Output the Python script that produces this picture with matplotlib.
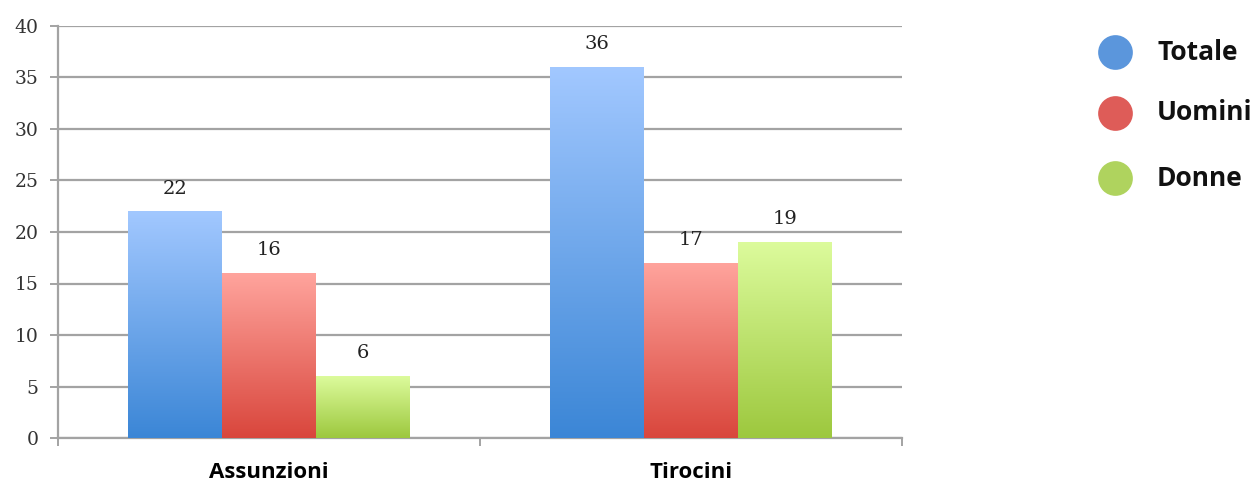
import numpy as np
import matplotlib
matplotlib.use("Agg")
import matplotlib.pyplot as plt
from matplotlib.colors import LinearSegmentedColormap
from matplotlib.lines import Line2D

categories = ["Assunzioni", "Tirocini"]
series_names = ["Totale", "Uomini", "Donne"]
totale = [22, 36]
uomini = [16, 17]
donne = [6, 19]
y_ticks = [0, 5, 10, 15, 20, 25, 30, 35, 40]

series_values = [totale, uomini, donne]
# (top colour, bottom colour) of each series' vertical gradient
gradients = [("#a2c8ff", "#3b86d6"), ("#ffa49d", "#d9463c"), ("#dcfb9c", "#9dc83e")]
legend_colors = ["#5b96dc", "#de5c58", "#afd35e"]

fig = plt.figure(figsize=(12.59, 4.84), dpi=100)
ax = fig.add_axes([58 / 1259, 1 - 438 / 484, (902 - 58) / 1259, (438 - 26) / 484])

x = np.arange(len(categories))
width = 0.222
offsets = [-width, 0, width]

grid_col = "#a3a3a3"
for vals, off, (top, bot) in zip(series_values, offsets, gradients):
    cmap = LinearSegmentedColormap.from_list("g", [bot, top])
    bars = ax.bar(x + off, vals, width, color="none", edgecolor="none", zorder=3)
    for rect, v in zip(bars, vals):
        x0 = rect.get_x()
        grad = np.linspace(0, 1, 256).reshape(-1, 1)
        im = ax.imshow(grad, cmap=cmap, origin="lower", aspect="auto",
                       extent=[x0, x0 + width, 0, v], zorder=3, interpolation="bicubic")
        im.set_clip_path(rect)
        ax.annotate(str(v), (x0 + width / 2, v), xytext=(0, 10), textcoords="offset points",
                    ha="center", va="bottom", fontsize=14, family="DejaVu Serif",
                    color="#222222", zorder=4)

ax.set_xlim(-0.5, 1.5)
ax.set_ylim(0, 40)
ax.set_yticks(y_ticks)
ax.set_yticklabels([str(t) for t in y_ticks], family="DejaVu Serif", fontsize=13.5, color="#333333")
ax.yaxis.grid(True, color=grid_col, linewidth=1.6, zorder=0)
ax.set_axisbelow(True)

ax.set_xticks([-0.5, 0.5, 1.5])
ax.set_xticklabels(["", "", ""])
ax.set_xticks(x, minor=True)
ax.set_xticklabels(categories, minor=True, fontsize=16, fontweight="bold", family="Open Sans")
ax.tick_params(axis="x", which="minor", length=0, pad=17.5)
ax.tick_params(axis="x", which="major", length=6, color=grid_col, width=1.4)
ax.tick_params(axis="y", length=6, color=grid_col, width=1.4, pad=8)

for s in ["top", "right"]:
    ax.spines[s].set_visible(False)
for s in ["left", "bottom"]:
    ax.spines[s].set_color(grid_col)
    ax.spines[s].set_linewidth(1.6)

# legend drawn in figure pixel coordinates
legend_y = [52, 113, 178]
for name, col, yp in zip(series_names, legend_colors, legend_y):
    fy = 1 - yp / 484
    fig.add_artist(Line2D([1115 / 1259], [fy], marker="o", markersize=25, color=col,
                          markeredgewidth=0, linestyle="none", transform=fig.transFigure))
    fig.text(1157 / 1259, fy, name, fontsize=19, fontweight="bold", family="Open Sans",
             va="center", ha="left", color="#111111")

fig.savefig("out.png", dpi=100, facecolor="white")
